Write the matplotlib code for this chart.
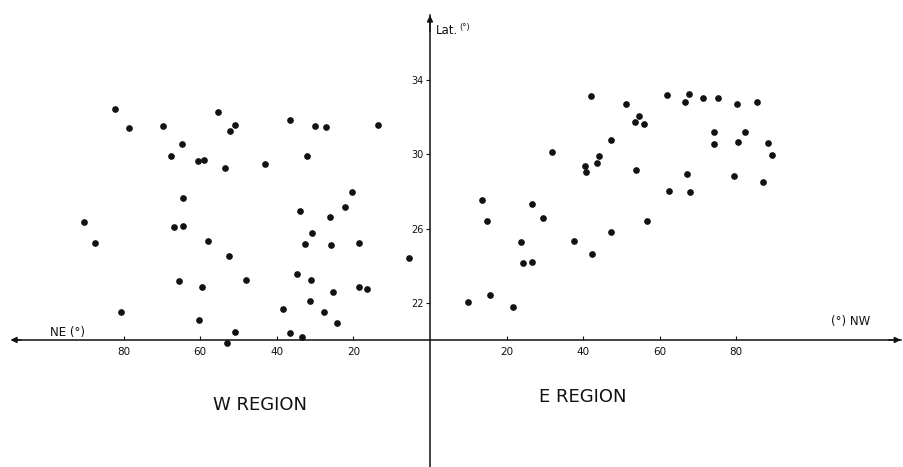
import matplotlib
matplotlib.use('Agg')
import matplotlib.pyplot as plt

# ---- data (degrees) ----
# W region: distance to the NE side (plotted to the left of the vertical axis)
w_lon = [90.3, 87.4, 82.3, 80.8, 78.5, 69.6, 67.7, 66.8, 65.6, 64.8,
         64.5, 64.4, 60.7, 60.3, 59.5, 59.1, 57.9, 55.3, 53.5, 53.1,
         52.6, 52.2, 51.0, 51.0, 48.0, 43.1, 38.4, 36.6, 36.6, 34.8,
         34.0, 33.3, 32.6, 32.2, 31.4, 31.0, 30.9, 30.0, 27.6, 27.2,
         26.2, 25.9, 25.4, 24.3, 22.1, 20.3, 18.5, 18.5, 16.4, 13.7,
         5.4]
w_lat = [26.38, 25.23, 32.45, 21.49, 31.41, 31.55, 29.92, 26.11, 23.18, 30.55,
         27.65, 26.16, 29.67, 21.08, 22.84, 29.69, 25.32, 32.27, 29.29, 19.85,
         24.54, 31.28, 31.57, 20.45, 23.23, 29.49, 21.65, 31.88, 20.36, 23.54,
         26.95, 20.15, 25.16, 29.94, 22.10, 23.23, 25.75, 31.54, 21.49, 31.47,
         26.65, 25.11, 22.57, 20.90, 27.15, 27.96, 25.21, 22.87, 22.77, 31.59,
         24.40]

# E region: distance to the NW side (plotted to the right of the vertical axis)
e_lon = [9.8, 13.5, 15.0, 15.7, 21.8, 23.9, 24.3, 26.6, 26.6, 29.5,
         31.8, 37.6, 40.5, 40.7, 42.0, 42.4, 43.5, 44.1, 47.3, 47.3,
         51.2, 53.5, 54.5, 55.9, 53.9, 56.7, 61.9, 66.6, 67.7, 71.2,
         75.3, 80.3, 85.4, 74.2, 82.3, 74.2, 80.5, 88.2, 89.3, 67.0,
         79.4, 87.1, 62.3, 67.8]
e_lat = [22.03, 27.56, 26.42, 22.44, 21.80, 25.27, 24.15, 27.32, 24.20, 26.59,
         30.13, 25.34, 29.36, 29.04, 33.15, 24.62, 29.53, 29.94, 30.78, 25.81,
         32.72, 31.75, 32.06, 31.64, 29.15, 26.40, 33.19, 32.85, 33.25, 33.06,
         33.06, 32.74, 32.85, 31.23, 31.20, 30.57, 30.69, 30.60, 29.96, 28.97,
         28.86, 28.53, 28.02, 27.96]

x_tick_values = [80, 60, 40, 20]
y_tick_values = [22, 26, 30, 34]
region_labels = ["W REGION", "E REGION"]

INK = '#111111'
plt.rcParams['font.family'] = ['DejaVu Sans']

fig = plt.figure(figsize=(9.04, 4.67), dpi=100)
ax = fig.add_axes([0, 0, 1, 1])
ax.set_xlim(-112.3, 123.8)
ax.set_ylim(13.15, 38.33)

ax.plot([-v for v in w_lon], w_lat, 'o', color=INK, ms=3.8, ls='none')
ax.plot(e_lon, e_lat, 'o', color=INK, ms=3.8, ls='none')

# axes through the origin
for s in ['top', 'right']:
    ax.spines[s].set_visible(False)
ax.spines['left'].set_position(('data', 0))
ax.spines['bottom'].set_position(('data', 20))
ax.spines['left'].set_bounds(13.15, 37.5)
ax.spines['bottom'].set_bounds(-109.0, 123.0)
for s in ['left', 'bottom']:
    ax.spines[s].set_linewidth(1.1)
    ax.spines[s].set_color(INK)

# arrowheads
arrow = dict(arrowstyle='-|>', color=INK, lw=1.0, mutation_scale=9)
ax.annotate('', xy=(-110.3, 20), xytext=(-106, 20), arrowprops=arrow)
ax.annotate('', xy=(123.7, 20), xytext=(119, 20), arrowprops=arrow)
ax.annotate('', xy=(0, 37.65), xytext=(0, 36.5), arrowprops=arrow)

xt = [-v for v in x_tick_values] + x_tick_values[::-1]
ax.set_xticks(xt)
ax.set_xticklabels([str(v) for v in x_tick_values] + [str(v) for v in x_tick_values[::-1]])
ax.set_yticks(y_tick_values)
ax.set_yticklabels([str(v) for v in y_tick_values])
ax.tick_params(axis='x', direction='in', length=3, width=0.8, pad=5,
               labelsize=7.5, colors=INK)
ax.tick_params(axis='y', direction='out', length=3, width=0.8, pad=1.5,
               labelsize=7, colors=INK)

# axis captions
ax.text(1.6, 36.67, 'Lat.', fontsize=8.5, color=INK, ha='left', va='center')
ax.text(7.6, 36.85, '(°)', fontsize=6, color=INK, ha='left', va='center')
ax.text(-99.2, 20.38, 'NE (°)', fontsize=8.5, color=INK, ha='left', va='center')
ax.text(104.7, 21.02, '(°) NW', fontsize=8.5, color=INK, ha='left', va='center')

# region labels
ax.text(-44.4, 16.47, region_labels[0], fontsize=13, color=INK, ha='center', va='center')
ax.text(40.0, 16.94, region_labels[1], fontsize=13, color=INK, ha='center', va='center')

fig.savefig('out.png', dpi=100, facecolor='white')
